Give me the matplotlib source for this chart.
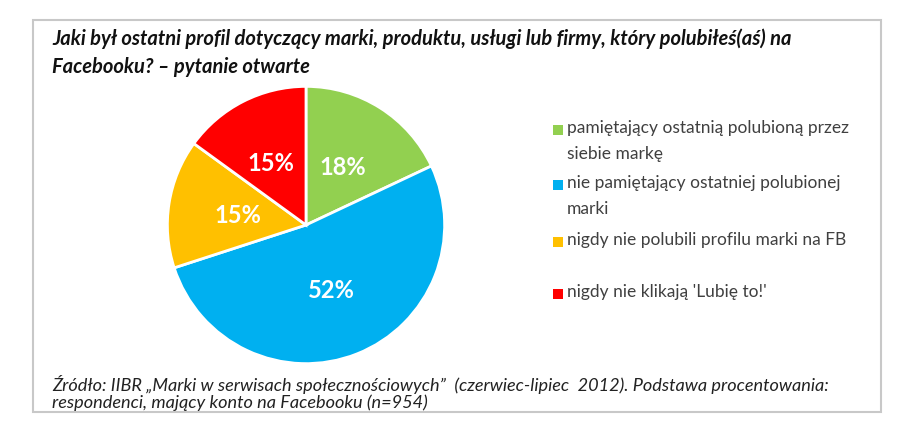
import matplotlib
matplotlib.use("Agg")
import matplotlib.pyplot as plt
from matplotlib.patches import Rectangle

plt.rcParams['font.family'] = ['Lato', 'DejaVu Sans']

title_lines = ["Jaki był ostatni profil dotyczący marki, produktu, usługi lub firmy, który polubiłeś(aś) na",
               "Facebooku? – pytanie otwarte"]
labels = ["pamiętający ostatnią polubioną przez\nsiebie markę",
          "nie pamiętający ostatniej polubionej\nmarki",
          "nigdy nie polubili profilu marki na FB",
          "nigdy nie klikają 'Lubię to!'"]
values = [18, 52, 15, 15]
colors = ["#92D050", "#00B0F0", "#FFC000", "#FF0000"]
source_lines = ["Źródło: IIBR „Marki w serwisach społecznościowych”  (czerwiec-lipiec  2012). Podstawa procentowania:",
                "respondenci, mający konto na Facebooku (n=954)"]

W, H = 900, 431
fig = plt.figure(figsize=(W / 100, H / 100), dpi=100)
bg = fig.add_axes([0, 0, 1, 1])
bg.set_xlim(0, W)
bg.set_ylim(H, 0)
bg.axis("off")

# frame
bg.add_patch(Rectangle((33, 21), 848, 392, fill=False, edgecolor="#c8c8c8", lw=1.5))

fig.canvas.draw()
r = fig.canvas.get_renderer()

def fit(t, width):
    w = t.get_window_extent(r).width
    t.set_fontsize(t.get_fontsize() * width / w)

t1 = bg.text(52, 39, title_lines[0], fontsize=14, fontweight="bold", fontstyle="italic",
             va="center", color="#111111")
fit(t1, 741)
fs = t1.get_fontsize()
bg.text(52, 67, title_lines[1], fontsize=fs, fontweight="bold", fontstyle="italic",
        va="center", color="#111111")

s1 = bg.text(52, 385, source_lines[0], fontsize=11, fontstyle="italic", va="center",
             color="#222222")
fit(s1, 774)
bg.text(52, 403, source_lines[1], fontsize=s1.get_fontsize(), fontstyle="italic", va="center",
        color="#222222")

# pie
pax = fig.add_axes([166 / W, 65 / H, 280 / W, 280 / H])
wedges, _, autotexts = pax.pie(values, colors=colors, startangle=90, counterclock=False,
                               autopct="%d%%", pctdistance=0.5,
                               wedgeprops=dict(edgecolor="white", linewidth=2),
                               textprops=dict(color="white", fontsize=17, fontweight="bold"))
pax.set_xlim(-1.01, 1.01)
pax.set_ylim(-1.01, 1.01)
pax.set_aspect("equal")
autotexts[3].set_position((-0.25, 0.45))

# legend
leg_y = [131, 186, 243, 295]
probe = bg.text(0, 0, labels[0].split("\n")[0], fontsize=11)
fit(probe, 281)
lfs = probe.get_fontsize()
probe.remove()
for lab, c, y in zip(labels, colors, leg_y):
    bg.add_patch(Rectangle((553, y - 5), 10, 10, color=c, lw=0))
    bg.text(567, y - 11, lab, fontsize=lfs, va="top", color="#404040", linespacing=1.8)

fig.savefig("out.png", dpi=100)
